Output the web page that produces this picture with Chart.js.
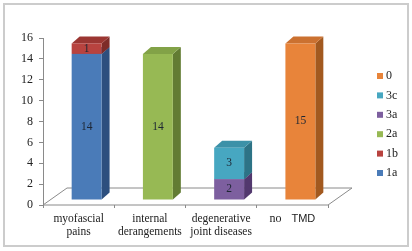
<!DOCTYPE html>
<html>
<head>
<meta charset="utf-8">
<script src="https://cdn.jsdelivr.net/npm/chart.js@4"></script>
<style>
  html, body { margin: 0; padding: 0; background: #fff; }
  #wrap { position: relative; width: 412px; height: 251px; }
  #frame { position: absolute; left: 3px; top: 3px; width: 402px; height: 240px; border: 2px solid #cccccc; pointer-events: none; }
</style>
</head>
<body>
<div id="wrap">
  <canvas id="tmdChart" width="412" height="251"></canvas>
  <div id="frame"></div>
</div>
<script>
// categories (x axis), each as its text lines
const categories = [
    ["myofascial", "pains"],
    ["internal", "derangements"],
    ["degenerative", "joint diseases"],
    ["no TMD"]
];

// series, bottom of the stack first
const seriesNames = ["1a", "1b", "2a", "3a", "3c", "0"];
const values1a = [14, null, null, null];
const values1b = [1, null, null, null];
const values2a = [null, 14, null, null];
const values3a = [null, null, 2, null];
const values3c = [null, null, 3, null];
const values0 = [null, null, null, 15];

const yTicks = [0, 2, 4, 6, 8, 10, 12, 14, 16];

// front / side / top shades
const frontColors = ["#4a7bb8", "#b8433f", "#97b954", "#7d5f9f", "#47a7c1", "#e8843a"];
const sideColors = ["#2d4f7e", "#7e2b28", "#627c33", "#52386e", "#2d7386", "#a2591f"];
const topColors = ["#3f6aa0", "#9b3632", "#82a247", "#6a5089", "#3c91a8", "#cb7130"];

const DEPTH_X = 8, DEPTH_Y = 7;     // bar depth
const SHIFT_X = 8, SHIFT_Y = 5;     // bars sit inside the floor
const FLOOR_X = 24, FLOOR_Y = 17;   // floor depth

const serif = "'Liberation Serif', 'Times New Roman', serif";
const sans = "'Liberation Sans', Arial, sans-serif";

const allValues = [values1a, values1b, values2a, values3a, values3c, values0];

const bars3d = {
    id: "bars3d",
    beforeDatasetsDraw(chart) {
        const ctx = chart.ctx;
        const xs = chart.scales.x;
        const y0 = chart.scales.y.getPixelForValue(0);

        // floor
        ctx.save();
        ctx.beginPath();
        ctx.moveTo(xs.left, y0);
        ctx.lineTo(xs.right, y0);
        ctx.lineTo(xs.right + FLOOR_X, y0 - FLOOR_Y);
        ctx.lineTo(xs.left + FLOOR_X, y0 - FLOOR_Y);
        ctx.closePath();
        ctx.fillStyle = "#ffffff";
        ctx.fill();
        ctx.strokeStyle = "#8a8a8a";
        ctx.lineWidth = 1;
        ctx.stroke();
        ctx.restore();

        ctx.save();
        ctx.translate(SHIFT_X, -SHIFT_Y);
        chart.data.datasets.forEach((ds, i) => {
            chart.getDatasetMeta(i).data.forEach((bar, j) => {
                if (ds.data[j] == null) return;
                const p = bar.getProps(["x", "y", "base", "width"], true);
                const l = p.x - p.width / 2, r = p.x + p.width / 2;
                ctx.fillStyle = sideColors[i];
                ctx.beginPath();
                ctx.moveTo(r, p.y);
                ctx.lineTo(r + DEPTH_X, p.y - DEPTH_Y);
                ctx.lineTo(r + DEPTH_X, p.base - DEPTH_Y);
                ctx.lineTo(r, p.base);
                ctx.closePath();
                ctx.fill();
                ctx.fillStyle = topColors[i];
                ctx.beginPath();
                ctx.moveTo(l, p.y);
                ctx.lineTo(l + DEPTH_X, p.y - DEPTH_Y);
                ctx.lineTo(r + DEPTH_X, p.y - DEPTH_Y);
                ctx.lineTo(r, p.y);
                ctx.closePath();
                ctx.fill();
            });
        });
    },
    afterDatasetsDraw(chart) {
        const ctx = chart.ctx;
        ctx.font = "11.5px " + serif;
        ctx.fillStyle = "#1d2633";
        ctx.textAlign = "center";
        ctx.textBaseline = "middle";
        chart.data.datasets.forEach((ds, i) => {
            chart.getDatasetMeta(i).data.forEach((bar, j) => {
                if (ds.data[j] == null) return;
                const p = bar.getProps(["x", "y", "base"], true);
                ctx.fillText(String(ds.data[j]), p.x, (p.y + p.base) / 2);
            });
        });
        ctx.restore();
    },
    afterDraw(chart) {
        const ctx = chart.ctx;
        const xs = chart.scales.x;
        const y0 = chart.scales.y.getPixelForValue(0);
        ctx.save();
        ctx.fillStyle = "#222";
        ctx.textBaseline = "middle";
        // category labels
        categories.forEach((lines, j) => {
            const cx = xs.getPixelForValue(j);
            lines.forEach((line, k) => {
                const ly = y0 + 14 + k * 13;
                const words = line.split(" ");
                if (words.length === 2 && words[1] === words[1].toUpperCase()) {
                    // "no TMD": mixed fonts as in the original
                    ctx.textAlign = "left";
                    ctx.font = "12px " + serif;
                    const w1 = ctx.measureText(words[0]).width;
                    ctx.font = "11px " + sans;
                    const w2 = ctx.measureText(words[1]).width;
                    const gap = 10;
                    const sx = cx - (w1 + gap + w2) / 2;
                    ctx.font = "12px " + serif;
                    ctx.fillText(words[0], sx, ly);
                    ctx.font = "11px " + sans;
                    ctx.fillText(words[1], sx + w1 + gap, ly);
                } else {
                    ctx.textAlign = "center";
                    ctx.font = "11.5px " + serif;
                    ctx.fillText(line, cx, ly);
                }
            });
        });
        // legend, top of stack first
        ctx.font = "12px " + serif;
        ctx.textAlign = "left";
        for (let n = 0; n < seriesNames.length; n++) {
            const i = seriesNames.length - 1 - n;
            const ly = 76 + n * 19.4;
            ctx.fillStyle = frontColors[i];
            ctx.fillRect(377, ly - 3, 6, 6);
            ctx.fillStyle = "#222";
            ctx.fillText(seriesNames[i], 386, ly);
        }
        ctx.restore();
    }
};

new Chart(document.getElementById("tmdChart").getContext("2d"), {
    type: "bar",
    data: {
        labels: categories.map(c => c.join(" ")),
        datasets: seriesNames.map((name, i) => ({
            label: name,
            data: allValues[i],
            backgroundColor: frontColors[i],
            borderWidth: 0,
            clip: false,
            categoryPercentage: 1,
            barPercentage: 0.42
        }))
    },
    options: {
        responsive: false,
        animation: false,
        layout: {
            padding: { left: 15, right: 84, top: 38, bottom: 43 }
        },
        plugins: {
            legend: { display: false },
            tooltip: { enabled: false }
        },
        scales: {
            x: {
                stacked: true,
                offset: true,
                border: { display: false },
                grid: {
                    drawOnChartArea: false,
                    drawTicks: true,
                    tickLength: 3,
                    color: "#8a8a8a"
                },
                ticks: { display: false }
            },
            y: {
                stacked: true,
                min: 0,
                max: 16,
                afterBuildTicks: axis => {
                    axis.ticks = yTicks.map(v => ({ value: v }));
                },
                border: { display: true, color: "#8a8a8a" },
                grid: {
                    drawOnChartArea: false,
                    drawTicks: true,
                    tickLength: 4,
                    color: "#8a8a8a"
                },
                ticks: {
                    padding: 6,
                    color: "#222",
                    font: { family: serif, size: 12 }
                }
            }
        }
    },
    plugins: [bars3d]
});
</script>
</body>
</html>
